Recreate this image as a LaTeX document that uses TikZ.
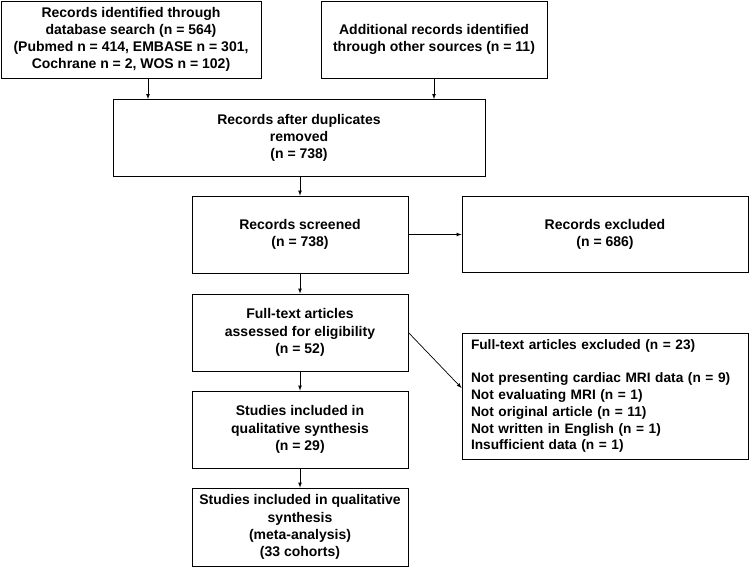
\documentclass[tikz,border=0pt]{standalone}
\usepackage{fontspec}
\setmainfont{Liberation Sans}
\usetikzlibrary{shapes,arrows,positioning}

\begin{document}
\begin{tikzpicture}[x=1pt,y=-1pt]
			\tikzstyle{Box}		= [draw, thick, fill=white, align=center, inner sep=3pt, font=\fontsize{14}{17.2}\selectfont\bfseries]
			\tikzstyle{Wide}	= [minimum width=260pt, minimum height=77pt]
			\tikzstyle{Mid}		= [minimum width=216pt, minimum height=77pt]
			\tikzstyle{Flow}	= [-latex, line width=0.7pt]
			
			\useasboundingbox (0,0) rectangle (749,567);
			
			\node (ident) at (131, 39.5) [Box, Wide] {Records identified through\\database search (n = 564)\\(Pubmed n = 414, EMBASE n = 301,\\Cochrane n = 2, WOS n = 102)};
			\node (other) at (434, 39.5) [Box, minimum width=226pt, minimum height=77pt] {Additional records identified\\through other sources (n = 11)};
			\node (dupl) at (299, 138) [Box, minimum width=372pt, minimum height=77pt] {Records after duplicates\\removed\\(n = 738)};
			\node (screen) at (300, 234.5) [Box, Mid] {Records screened\\(n = 738)};
			\node (recex) at (605, 234) [Box, minimum width=286pt, minimum height=76pt] {Records excluded\\(n = 686)};
			\node (elig) at (300, 332.5) [Box, Mid] {Full-text articles\\assessed for eligibility\\(n = 52)};
			\node (ftex) at (605, 396) [Box, minimum width=286pt, minimum height=126pt, align=left, text width=268pt, inner xsep=9pt, font=\fontsize{13.7}{16.8}\selectfont\bfseries] {Full-text articles excluded (n = 23)\\[16.8pt]Not presenting cardiac MRI data (n = 9)\\Not evaluating MRI (n = 1)\\Not original article (n = 11)\\Not written in English (n = 1)\\Insufficient data (n = 1)};
			\node (qual) at (300, 429.5) [Box, Mid] {Studies included in\\qualitative synthesis\\(n = 29)};
			\node (meta) at (300, 527) [Box, Mid, minimum height=78pt] {Studies included in qualitative\\synthesis\\(meta-analysis)\\(33 cohorts)};
			
			\draw [Flow] ([xshift=17pt]ident.south) to ([xshift=17pt]ident.south |- dupl.north);
			\draw [Flow] (other.south) to (other.south |- dupl.north);
			\draw [Flow] (dupl.south -| screen) to (screen.north);
			\draw [Flow] (screen.east) to (screen.east -| recex.west);
			\draw [Flow] (screen) to (elig);
			\draw [Flow] (elig.east) to ([yshift=8pt]ftex.west);
			\draw [Flow] (elig) to (qual);
			\draw [Flow] (qual) to (meta);
		\end{tikzpicture}
\end{document}
